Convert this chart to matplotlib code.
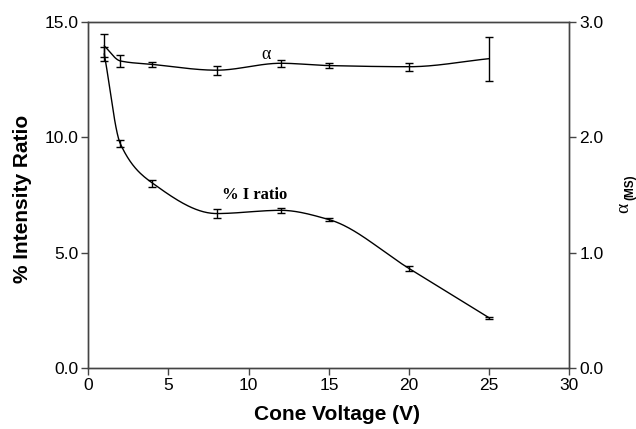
import numpy as np
import matplotlib
matplotlib.use("Agg")
import matplotlib.pyplot as plt

voltage = [1, 2, 4, 8, 12, 15, 20, 25]
i_ratio = [13.6, 9.71, 8.01, 6.69, 6.83, 6.43, 4.31, 2.17]
i_ratio_err = [0.30, 0.15, 0.15, 0.20, 0.10, 0.07, 0.12, 0.03]
alpha = [2.79, 2.66, 2.63, 2.58, 2.64, 2.62, 2.61, 2.68]
alpha_err = [0.10, 0.05, 0.02, 0.04, 0.03, 0.02, 0.035, 0.19]


def smooth(x, y, n=300):
    # monotone cubic (Fritsch-Carlson), only used to draw the smooth line
    x = np.asarray(x, float)
    y = np.asarray(y, float)
    h = np.diff(x)
    d = np.diff(y) / h
    m = np.zeros_like(y)
    m[0], m[-1] = d[0], d[-1]
    for i in range(1, len(x) - 1):
        if d[i - 1] * d[i] > 0:
            w1 = 2 * h[i] + h[i - 1]
            w2 = h[i] + 2 * h[i - 1]
            m[i] = (w1 + w2) / (w1 / d[i - 1] + w2 / d[i])
    xs = np.linspace(x[0], x[-1], n)
    k = np.clip(np.searchsorted(x, xs) - 1, 0, len(x) - 2)
    t = (xs - x[k]) / h[k]
    h00 = 2 * t**3 - 3 * t**2 + 1
    h10 = t**3 - 2 * t**2 + t
    h01 = -2 * t**3 + 3 * t**2
    h11 = t**3 - t**2
    ys = h00 * y[k] + h10 * h[k] * m[k] + h01 * y[k + 1] + h11 * h[k] * m[k + 1]
    return xs, ys


plt.rcParams['font.family'] = ['Liberation Sans', 'DejaVu Sans']
fig = plt.figure(figsize=(6.36, 4.29), dpi=100)
ax = fig.add_axes([0.1388, 0.1422, 0.7566, 0.8072])
ax2 = ax.twinx()

xs, ys = smooth(voltage, i_ratio)
ax.plot(xs, ys, color="black", lw=1)
ax.errorbar(voltage, i_ratio, yerr=i_ratio_err, fmt="none", ecolor="black",
            elinewidth=1, capsize=3, capthick=1)

xs, ys = smooth(voltage, alpha)
ax2.plot(xs, ys, color="black", lw=1)
ax2.errorbar(voltage, alpha, yerr=alpha_err, fmt="none", ecolor="black",
             elinewidth=1, capsize=3, capthick=1)

ax.set_xlim(0, 30)
ax.set_ylim(0, 15)
ax2.set_ylim(0, 3)
ax.set_xticks([0, 5, 10, 15, 20, 25, 30])
ax.set_yticks([0, 5, 10, 15])
ax.set_yticklabels(["0.0", "5.0", "10.0", "15.0"])
ax2.set_yticks([0, 1, 2, 3])
ax2.set_yticklabels(["0.0", "1.0", "2.0", "3.0"])

for a in (ax, ax2):
    a.tick_params(direction="out", length=5, width=1, labelsize=12.5,
                  color="#444444", pad=2)
    for s in a.spines.values():
        s.set_color("#444444")
        s.set_linewidth(1)

fig.text(337 / 636, 1 - 414 / 429, "Cone Voltage (V)", fontsize=15,
         fontweight="bold", ha="center", va="center")
fig.text(22.5 / 636, 1 - 199 / 429, "% Intensity Ratio", fontsize=15,
         fontweight="bold", ha="center", va="center", rotation=90)
fig.text(624 / 636, 1 - 208 / 429, "α", family="Liberation Serif",
         fontsize=14, ha="center", va="center", rotation=90)
fig.text(630.5 / 636, 1 - 187 / 429, "(MS)", fontsize=8.5, fontweight="bold",
         ha="center", va="center", rotation=90)

ax.text(11.1, 13.6, "α", family="Liberation Serif", fontsize=13,
        ha="center", va="center")
ax.text(10.4, 7.5, "% I ratio", family="Liberation Serif", fontsize=12,
        fontweight="bold", ha="center", va="center")

fig.savefig("out.png", dpi=100)
